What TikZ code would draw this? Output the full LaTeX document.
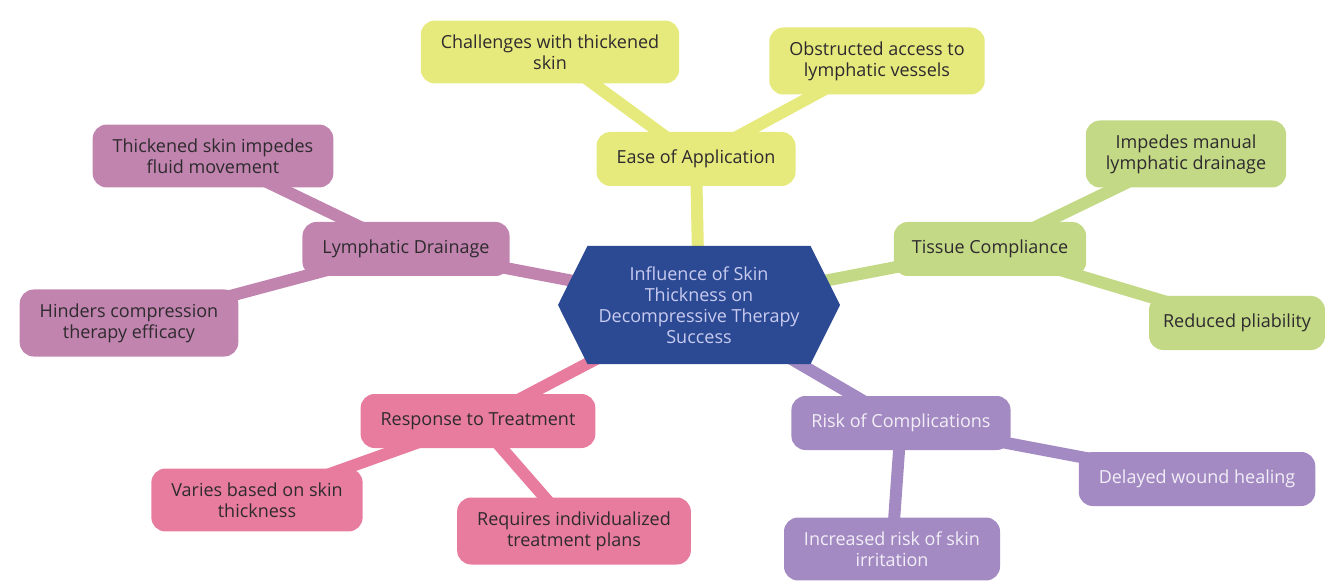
\documentclass[tikz,border=0pt]{standalone}
\usepackage{fontspec}
\setmainfont{Open Sans}
\usetikzlibrary{positioning, shapes.symbols, backgrounds}

\definecolor{hubblue}{HTML}{2B4A93}
\definecolor{hubtext}{HTML}{C9CBF0}
\definecolor{easeyellow}{HTML}{E6E97C}
\definecolor{tissuegreen}{HTML}{C3D986}
\definecolor{drainmauve}{HTML}{C084AE}
\definecolor{responsepink}{HTML}{E87C9F}
\definecolor{riskpurple}{HTML}{A38AC2}
\definecolor{darktext}{HTML}{2E2A2E}
\definecolor{lighttext}{HTML}{F2EEF8}

\begin{document}
\begin{tikzpicture}[
    x=1pt, y=-1pt,
    mynode/.style={rectangle, rounded corners=14pt, align=center, inner xsep=20pt, inner ysep=14pt, minimum height=54pt, font=\fontsize{18}{21}\selectfont, text=darktext},
    hubnode/.style={signal, signal to=west and east, signal pointer angle=127, fill=hubblue, text=hubtext, align=center, minimum width=282pt, minimum height=118pt, inner xsep=4pt, font=\fontsize{18}{21}\selectfont},
    mylink/.style={line width=12pt}
]
    \useasboundingbox (0,0) rectangle (1328,585);

    \node[hubnode] (hub) at (699,305) {Influence of Skin\\Thickness on\\Decompressive Therapy\\Success};

    % ease of application
    \node[mynode, fill=easeyellow] (ease) at (696,159) {Ease of Application};
    \node[mynode, fill=easeyellow] (challenges) at (550,52) {Challenges with thickened\\skin};
    \node[mynode, fill=easeyellow] (obstructed) at (877,61) {Obstructed access to\\lymphatic vessels};

    % tissue compliance
    \node[mynode, fill=tissuegreen, inner xsep=18pt] (tissue) at (990,249) {Tissue Compliance};
    \node[mynode, fill=tissuegreen] (impedes) at (1186,154) {Impedes manual\\lymphatic drainage};
    \node[mynode, fill=tissuegreen, inner xsep=14pt] (pliability) at (1237,323) {Reduced pliability};

    % lymphatic drainage
    \node[mynode, fill=drainmauve] (drainage) at (406,249) {Lymphatic Drainage};
    \node[mynode, fill=drainmauve] (movement) at (213,156) {Thickened skin impedes\\fluid movement};
    \node[mynode, fill=drainmauve] (hinders) at (129,323) {Hinders compression\\therapy efficacy};

    % response to treatment
    \node[mynode, fill=responsepink] (response) at (478,421) {Response to Treatment};
    \node[mynode, fill=responsepink] (varies) at (257,500) {Varies based on skin\\thickness};
    \node[mynode, fill=responsepink] (requires) at (574,531) {Requires individualized\\treatment plans};

    % risk of complications
    \node[mynode, fill=riskpurple, text=lighttext] (risk) at (901,423) {Risk of Complications};
    \node[mynode, fill=riskpurple, text=lighttext] (wound) at (1197,479) {Delayed wound healing};
    \node[mynode, fill=riskpurple, text=lighttext] (irritation) at (892,549) {Increased risk of skin\\irritation};

    \begin{scope}[on background layer]
        \draw[mylink, easeyellow] (hub.center) -- (ease.center);
        \draw[mylink, easeyellow] (ease.center) -- (challenges.center);
        \draw[mylink, easeyellow] (ease.center) -- (obstructed.center);

        \draw[mylink, tissuegreen] (hub.center) -- (tissue.center);
        \draw[mylink, tissuegreen] (tissue.center) -- (impedes.center);
        \draw[mylink, tissuegreen] (tissue.center) -- (pliability.center);

        \draw[mylink, drainmauve] (hub.center) -- (drainage.center);
        \draw[mylink, drainmauve] (drainage.center) -- (movement.center);
        \draw[mylink, drainmauve] (drainage.center) -- (hinders.center);

        \draw[mylink, responsepink] (hub.center) -- (response.center);
        \draw[mylink, responsepink] (response.center) -- (varies.center);
        \draw[mylink, responsepink] (response.center) -- (requires.center);

        \draw[mylink, riskpurple] (hub.center) -- (risk.center);
        \draw[mylink, riskpurple] (risk.center) -- (wound.center);
        \draw[mylink, riskpurple] (risk.center) -- (irritation.center);
    \end{scope}

\end{tikzpicture}
\end{document}
